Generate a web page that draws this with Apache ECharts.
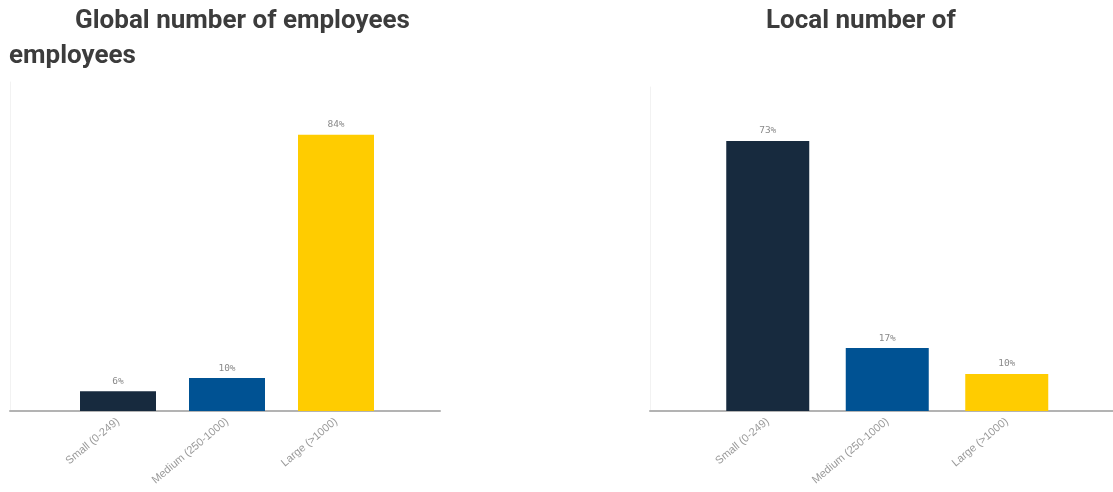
<!DOCTYPE html>
<html>
<head>
<meta charset="utf-8">
<script src="https://cdn.jsdelivr.net/npm/echarts@6/dist/echarts.min.js"></script>
<style>
  html, body { margin: 0; padding: 0; background: #ffffff; }
  #chart { width: 1113px; height: 492px; }
</style>
</head>
<body>
<div id="chart"></div>
<script>
// Company size buckets shared by both panels
const categories = ['Small (0-249)', 'Medium (250-1000)', 'Large (>1000)'];
// Share of respondents (%) by global headcount
const globalShare = [6, 10, 84];
// Share of respondents (%) by local headcount
const localShare = [73, 17, 10];
const barColors = ['#172a3e', '#005293', '#ffcc00'];

const chart = echarts.init(document.getElementById('chart'));

const labelFont = 'DejaVu Sans Mono';
const axisFont = 'Liberation Sans';
const titleStyle = { fontFamily: 'Roboto', fontWeight: 'bold', fontSize: 26, color: '#3c3c3c' };

function barSeries(values, xi, yi, width) {
  return {
    type: 'bar',
    xAxisIndex: xi,
    yAxisIndex: yi,
    barWidth: width,
    data: values.map((v, i) => ({ value: v, itemStyle: { color: barColors[i] } })),
    label: {
      show: true,
      position: 'top',
      distance: 5,
      formatter: '{c}%',
      color: '#8a8a8a',
      fontSize: 9.5,
      fontFamily: labelFont
    },
    silent: true
  };
}

function catAxis(gi, showLabels) {
  return {
    type: 'category',
    gridIndex: gi,
    data: categories,
    axisLine: { show: !showLabels, lineStyle: { color: '#b3b3b3', width: 2 } },
    axisTick: { show: false },
    axisLabel: {
      show: showLabels,
      rotate: 40,
      margin: 9,
      color: '#9a9a9a',
      fontSize: 11,
      fontFamily: axisFont
    }
  };
}

function valAxis(gi, showEdge) {
  return {
    type: 'value',
    gridIndex: gi,
    min: 0,
    max: 100,
    show: true,
    axisLine: { show: showEdge, lineStyle: { color: '#f2f2f2', width: 1 } },
    axisTick: { show: false },
    axisLabel: { show: false },
    splitLine: { show: false }
  };
}

chart.setOption({
  animation: false,
  title: [
    { text: 'Global number of employees', left: 70, top: 3, textStyle: titleStyle },
    { text: 'employees', left: 4, top: 38, textStyle: titleStyle },
    { text: 'Local number of', left: 761, top: 3, textStyle: titleStyle }
  ],
  grid: [
    // baseline strips spanning each panel
    { left: 10, width: 430, top: 82, bottom: 81 },
    { left: 650, width: 463, top: 87, bottom: 81 },
    // bar plotting areas
    { left: 63.5, width: 327, top: 82, bottom: 81 },
    { left: 708, width: 358.5, top: 41, bottom: 81 }
  ],
  xAxis: [catAxis(0, false), catAxis(1, false), catAxis(2, true), catAxis(3, true)],
  yAxis: [valAxis(0, true), valAxis(1, true), valAxis(2, false), valAxis(3, false)],
  series: [
    barSeries(globalShare, 2, 2, 76),
    barSeries(localShare, 3, 3, 83)
  ]
});
</script>
</body>
</html>
